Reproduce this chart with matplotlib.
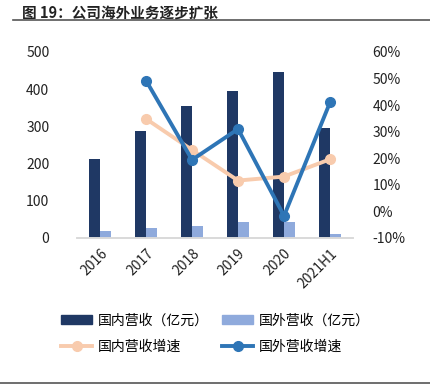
import matplotlib.pyplot as plt
import numpy as np
from matplotlib.ticker import FuncFormatter
from matplotlib.lines import Line2D
from matplotlib.patches import Patch

plt.rcParams['font.family'] = ['Noto Sans CJK SC', 'DejaVu Sans']

# 數據
years = ['2016', '2017', '2018', '2019', '2020', '2021H1']
domestic_rev = [213, 288, 354, 394, 445, 296]
overseas_rev = [18, 28, 33, 44, 42, 11]
domestic_growth = [np.nan, 34.8, 23.1, 11.6, 13.1, 19.6]
overseas_growth = [np.nan, 49.2, 19.4, 31.0, -1.7, 41.0]

c_dom = '#1F3864'
c_over = '#8FAADC'
c_dom_g = '#F8CBAD'
c_over_g = '#2E75B6'

fig = plt.figure(figsize=(4.31, 3.85), dpi=100)
ax = fig.add_axes([0.179, 0.382, 0.640, 0.483])

x = np.arange(len(years))
w = 0.24
ax.bar(x - w / 2, domestic_rev, w, color=c_dom)
ax.bar(x + w / 2, overseas_rev, w, color=c_over)
ax.set_ylim(0, 500)
ax.set_yticks(range(0, 501, 100))
ax.set_xlim(-0.5, len(years) - 0.5)
ax.set_xticks(x)
ax.set_xticklabels(years, rotation=45, ha='right', rotation_mode='anchor')

ax2 = ax.twinx()
ax2.plot(x, domestic_growth, color=c_dom_g, lw=2.8, marker='o', ms=7)
ax2.plot(x, overseas_growth, color=c_over_g, lw=2.8, marker='o', ms=7)
ax2.set_ylim(-10, 60)
ax2.set_yticks(range(-10, 61, 10))
ax2.yaxis.set_major_formatter(FuncFormatter(lambda v, p: f"{v:.0f}%"))

for a in (ax, ax2):
    for s in ['top', 'left', 'right']:
        a.spines[s].set_visible(False)
    a.spines['bottom'].set_color('#D9D9D9')
    a.spines['bottom'].set_linewidth(1.2)
    a.tick_params(length=0, labelsize=10, colors='#222222')
ax.tick_params(axis='y', pad=20)
ax2.tick_params(axis='y', pad=14)
ax.tick_params(axis='x', pad=6)

# 標題與分隔線
fig.text(0.052, 0.968, '图 19：公司海外业务逐步扩张', fontsize=10.5,
         fontweight='bold', color='#222222', va='center')
fig.add_artist(Line2D([0.03, 1.0], [0.948, 0.948], color='#555555', lw=1.2))
fig.add_artist(Line2D([0.0, 1.0], [0.006, 0.006], color='#555555', lw=1.2))

handles = [
    Patch(color=c_dom),
    Line2D([], [], color=c_dom_g, lw=2.8, marker='o', ms=7),
    Patch(color=c_over),
    Line2D([], [], color=c_over_g, lw=2.8, marker='o', ms=7),
]
labels = ['国内营收（亿元）', '国内营收增速', '国外营收（亿元）', '国外营收增速']
fig.legend(handles, labels, ncol=2, loc='center', bbox_to_anchor=(0.50, 0.133),
           frameon=False, fontsize=10, handlelength=2.2, handleheight=0.55,
           columnspacing=1.0, labelspacing=0.9, handletextpad=0.4)

fig.savefig('out.png', dpi=100)
